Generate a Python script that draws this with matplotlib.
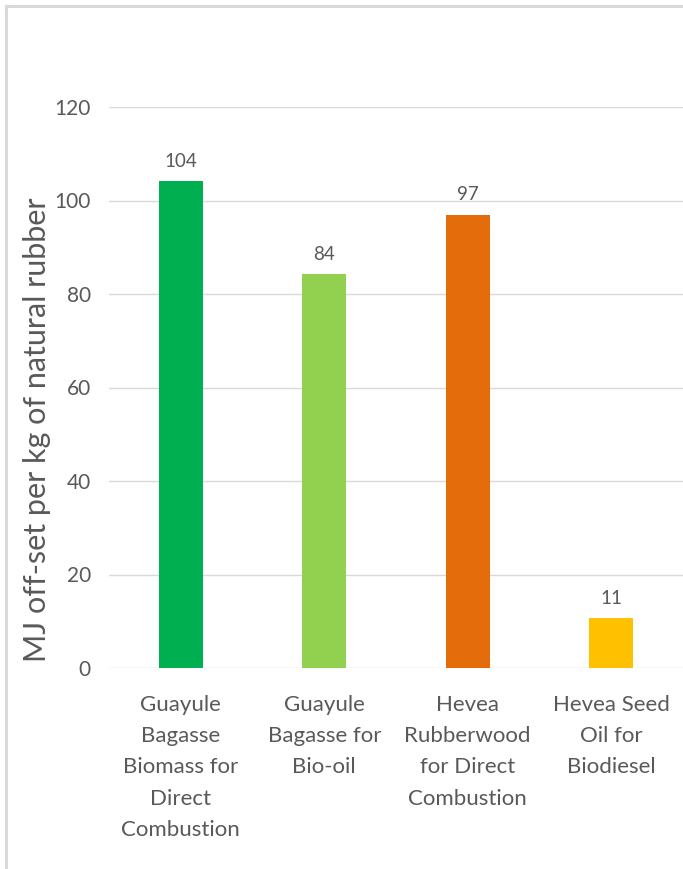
import matplotlib.pyplot as plt
from matplotlib.lines import Line2D
import numpy as np

categories = [
    "Guayule\nBagasse\nBiomass for\nDirect\nCombustion",
    "Guayule\nBagasse for\nBio-oil",
    "Hevea\nRubberwood\nfor Direct\nCombustion",
    "Hevea Seed\nOil for\nBiodiesel",
]
values = [104.2, 84.2, 97.0, 10.6]
bar_colors = ["#00b050", "#92d050", "#e46c0a", "#ffc000"]
yticks = [0, 20, 40, 60, 80, 100, 120]

text_gray = "#595959"
grid_gray = "#d9d9d9"

plt.rcParams["font.family"] = ["Lato", "DejaVu Sans"]

fig = plt.figure(figsize=(6.83, 8.69), dpi=100)
ax = fig.add_axes([109 / 683, 1 - 668 / 869, 574 / 683, 561 / 869])

x = np.arange(len(categories))
bars = ax.bar(x, values, width=0.31, color=bar_colors, zorder=3)
for b, v in zip(bars, values):
    ax.annotate(f"{v:.0f}", (b.get_x() + b.get_width() / 2, v),
                xytext=(0, 8), textcoords="offset points",
                ha="center", va="bottom", fontsize=13.5, color=text_gray)

ax.set_xlim(-0.5, len(categories) - 0.5)
ax.set_ylim(0, 120)
ax.set_yticks(yticks)
ax.set_xticks(x)
ax.set_xticklabels(categories, fontsize=16, color=text_gray, linespacing=1.7, va="top")
ax.tick_params(axis="y", labelsize=15, labelcolor=text_gray, length=0, pad=13)
ax.tick_params(axis="x", length=0, pad=19.5)
ax.grid(axis="y", color=grid_gray, linewidth=1.0, zorder=0)
for s in ax.spines.values():
    s.set_visible(False)

ax.set_ylabel("MJ off-set per kg of natural rubber", fontsize=22, color=text_gray)
ax.yaxis.set_label_coords(-(109 - 51) / 574, 0.425)

# outer chart frame (left and top edges only visible)
fig.add_artist(Line2D([5.5 / 683, 5.5 / 683], [0, 1 - 5.5 / 869], color=grid_gray,
                      linewidth=2.2, transform=fig.transFigure))
fig.add_artist(Line2D([5.5 / 683, 1], [1 - 5.5 / 869, 1 - 5.5 / 869], color=grid_gray,
                      linewidth=2.2, transform=fig.transFigure))

fig.savefig("out.png", dpi=100, facecolor="white")
